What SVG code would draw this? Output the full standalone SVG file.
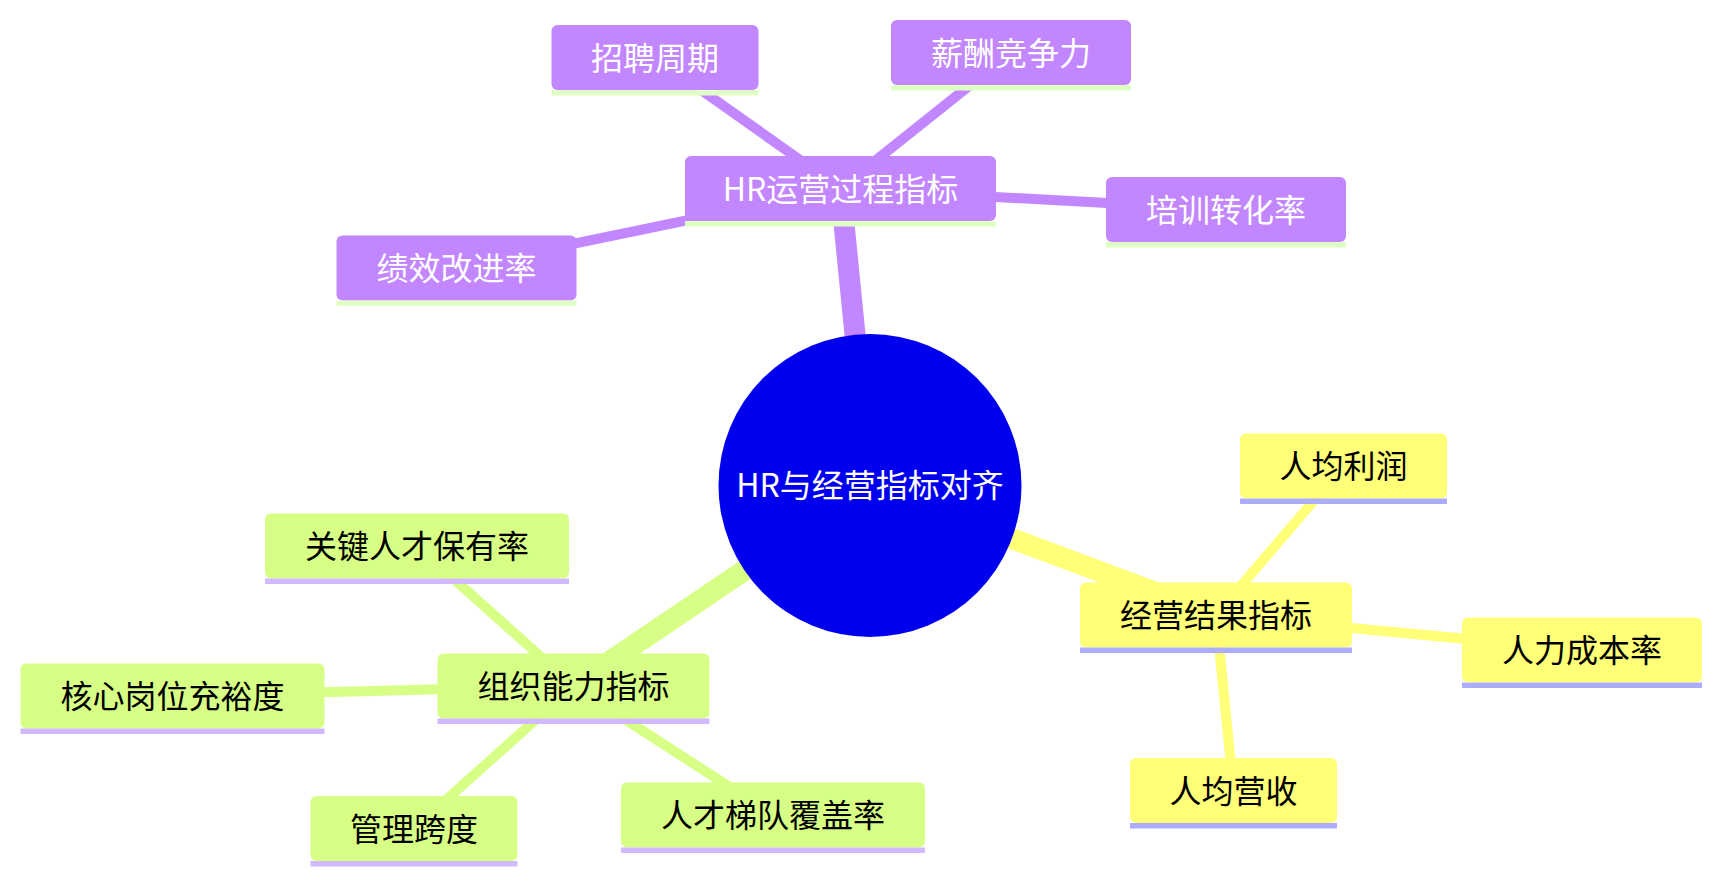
<svg xmlns="http://www.w3.org/2000/svg" width="1721" height="883" viewBox="0 0 1721 883">
<style>
.bg{fill:#ffffff}
.e{fill:none;stroke-linecap:butt}
.e0{stroke-width:21}
.e1{stroke-width:10}
.ep{stroke:#c286ff}
.ey{stroke:#ffff78}
.eg{stroke:#d7ff86}
.box{stroke:none}
.p .box{fill:#c286ff}
.y .box{fill:#ffff78}
.g .box{fill:#d7ff86}
.ul{stroke-width:5.5}
.p .ul{stroke:#dfffc4}
.y .ul{stroke:#adadff}
.g .ul{stroke:#d2b9ff}
text{font-family:"Noto Sans CJK SC","Noto Sans",sans-serif;font-size:32px;text-anchor:middle;dominant-baseline:central}
.p text{fill:#ffffff}
.y text,.g text{fill:#000000}
.root text{fill:#ffffff}
</style>
<rect class="bg" x="0" y="0" width="1721" height="883"/>
<g id="connectors">
<line class="e e0 ep" x1="870" y1="485.5" x2="840.5" y2="188.5"/>
<line class="e e0 ey" x1="870" y1="485.5" x2="1216" y2="615"/>
<line class="e e0 eg" x1="870" y1="485.5" x2="573.5" y2="686"/>
<line class="e e1 ep" x1="840.5" y1="188.5" x2="655" y2="57.5"/>
<line class="e e1 ep" x1="840.5" y1="188.5" x2="1011" y2="52.5"/>
<line class="e e1 ep" x1="840.5" y1="188.5" x2="1226" y2="209.5"/>
<line class="e e1 ep" x1="840.5" y1="188.5" x2="456.5" y2="268"/>
<line class="e e1 ey" x1="1216" y1="615" x2="1343.5" y2="466"/>
<line class="e e1 ey" x1="1216" y1="615" x2="1582" y2="650"/>
<line class="e e1 ey" x1="1216" y1="615" x2="1233.5" y2="790.5"/>
<line class="e e1 eg" x1="573.5" y1="686" x2="417" y2="546"/>
<line class="e e1 eg" x1="573.5" y1="686" x2="172.5" y2="696"/>
<line class="e e1 eg" x1="573.5" y1="686" x2="414" y2="828.5"/>
<line class="e e1 eg" x1="573.5" y1="686" x2="773" y2="815"/>
</g>
<g id="root" class="root">
<circle cx="870" cy="485.5" r="151.5" fill="#0000ee"/>
<text x="870" y="483">HR与经营指标对齐</text>
</g>
<g id="hr-ops" class="p" transform="translate(685,156)">
<rect class="box" x="0" y="0" width="311" height="65" rx="6"/>
<line class="ul" x1="0" y1="67.75" x2="311" y2="67.75"/>
<text x="155.5" y="30.5">HR运营过程指标</text>
</g>
<g id="recruit" class="p" transform="translate(551.5,25)">
<rect class="box" x="0" y="0" width="207" height="65" rx="6"/>
<line class="ul" x1="0" y1="67.75" x2="207" y2="67.75"/>
<text x="103.5" y="30.5">招聘周期</text>
</g>
<g id="salary" class="p" transform="translate(891,20)">
<rect class="box" x="0" y="0" width="240" height="65" rx="6"/>
<line class="ul" x1="0" y1="67.75" x2="240" y2="67.75"/>
<text x="120" y="30.5">薪酬竞争力</text>
</g>
<g id="training" class="p" transform="translate(1106,177)">
<rect class="box" x="0" y="0" width="240" height="65" rx="6"/>
<line class="ul" x1="0" y1="67.75" x2="240" y2="67.75"/>
<text x="120" y="30.5">培训转化率</text>
</g>
<g id="perf" class="p" transform="translate(336.5,235.5)">
<rect class="box" x="0" y="0" width="240" height="65" rx="6"/>
<line class="ul" x1="0" y1="67.75" x2="240" y2="67.75"/>
<text x="120" y="30.5">绩效改进率</text>
</g>
<g id="biz" class="y" transform="translate(1080,582.5)">
<rect class="box" x="0" y="0" width="272" height="65" rx="6"/>
<line class="ul" x1="0" y1="67.75" x2="272" y2="67.75"/>
<text x="136" y="30.5">经营结果指标</text>
</g>
<g id="profit" class="y" transform="translate(1240,433.5)">
<rect class="box" x="0" y="0" width="207" height="65" rx="6"/>
<line class="ul" x1="0" y1="67.75" x2="207" y2="67.75"/>
<text x="103.5" y="30.5">人均利润</text>
</g>
<g id="cost" class="y" transform="translate(1462,617.5)">
<rect class="box" x="0" y="0" width="240" height="65" rx="6"/>
<line class="ul" x1="0" y1="67.75" x2="240" y2="67.75"/>
<text x="120" y="30.5">人力成本率</text>
</g>
<g id="revenue" class="y" transform="translate(1130,758)">
<rect class="box" x="0" y="0" width="207" height="65" rx="6"/>
<line class="ul" x1="0" y1="67.75" x2="207" y2="67.75"/>
<text x="103.5" y="30.5">人均营收</text>
</g>
<g id="org" class="g" transform="translate(437.5,653.5)">
<rect class="box" x="0" y="0" width="272" height="65" rx="6"/>
<line class="ul" x1="0" y1="67.75" x2="272" y2="67.75"/>
<text x="136" y="30.5">组织能力指标</text>
</g>
<g id="retention" class="g" transform="translate(265,513.5)">
<rect class="box" x="0" y="0" width="304" height="65" rx="6"/>
<line class="ul" x1="0" y1="67.75" x2="304" y2="67.75"/>
<text x="152" y="30.5">关键人才保有率</text>
</g>
<g id="core" class="g" transform="translate(20.5,663.5)">
<rect class="box" x="0" y="0" width="304" height="65" rx="6"/>
<line class="ul" x1="0" y1="67.75" x2="304" y2="67.75"/>
<text x="152" y="30.5">核心岗位充裕度</text>
</g>
<g id="span" class="g" transform="translate(310.5,796)">
<rect class="box" x="0" y="0" width="207" height="65" rx="6"/>
<line class="ul" x1="0" y1="67.75" x2="207" y2="67.75"/>
<text x="103.5" y="30.5">管理跨度</text>
</g>
<g id="pipeline" class="g" transform="translate(621,782.5)">
<rect class="box" x="0" y="0" width="304" height="65" rx="6"/>
<line class="ul" x1="0" y1="67.75" x2="304" y2="67.75"/>
<text x="152" y="30.5">人才梯队覆盖率</text>
</g>
</svg>
